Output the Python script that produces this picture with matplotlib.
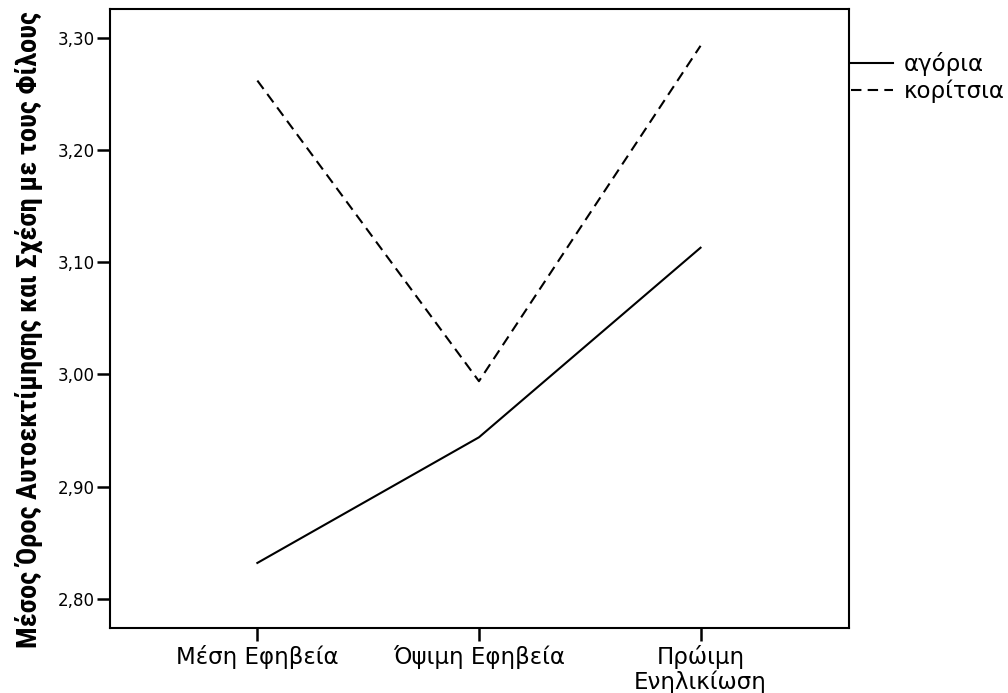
import matplotlib
matplotlib.use("Agg")
import matplotlib.pyplot as plt

categories = ["Μέση Εφηβεία", "Όψιμη Εφηβεία", "Πρώιμη\nΕνηλικίωση"]
boys = [2.832, 2.944, 3.113]
girls = [3.262, 2.994, 3.293]
series_names = ["αγόρια", "κορίτσια"]
yticks = [2.80, 2.90, 3.00, 3.10, 3.20, 3.30]
ytick_labels = ["2,80", "2,90", "3,00", "3,10", "3,20", "3,30"]
ylabel = "Μέσος Όρος Αυτοεκτίμησης και Σχέση με τους Φίλους"

plt.rcParams['font.family'] = ['DejaVu Sans']

fig = plt.figure(figsize=(10.08, 6.93), dpi=100)
ax = fig.add_axes([110/1008, 1-628/693, (849-110)/1008, (628-9)/693])

x = list(range(len(categories)))
ax.plot(x, boys, color='black', lw=1.5, label=series_names[0])
ax.plot(x, girls, color='black', lw=1.5, linestyle=(0, (5, 3)), label=series_names[1])

ax.set_xlim(-0.665, 2.67)
ax.set_ylim(2.774, 3.3258)
ax.set_xticks(x)
ax.set_xticklabels(categories, fontsize=16.5, linespacing=1.08)
ax.set_yticks(yticks)
ax.set_yticklabels(ytick_labels, fontsize=12)
ax.tick_params(axis='both', direction='out', length=9.5, width=1.8, colors='black')
ax.tick_params(axis='x', pad=3)
ax.tick_params(axis='y', pad=1.5)
for s in ax.spines.values():
    s.set_linewidth(1.5)

ax.set_ylabel(ylabel, fontsize=20.5, fontweight='bold', fontstretch='condensed',
              family=['Roboto Condensed', 'Noto Sans', 'DejaVu Sans'])
ax.yaxis.set_label_coords(-0.09, 0.482)

leg = ax.legend(loc='upper left', bbox_to_anchor=(1.0, 0.935), frameon=False,
                fontsize=16.5, handlelength=1.83, handletextpad=0.45,
                borderaxespad=0.0, borderpad=0.1, labelspacing=0.18)

fig.savefig("out.png", dpi=100)
